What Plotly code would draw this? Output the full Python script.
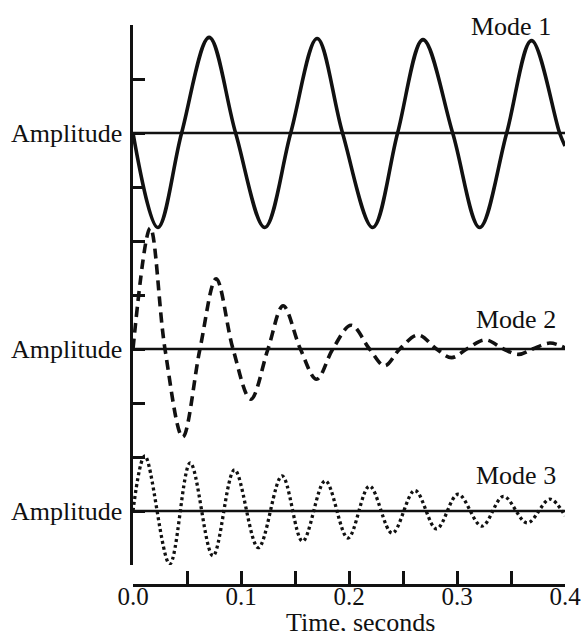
import plotly.graph_objects as go

# ---- data (time in s, amplitude in axis units) ----
mode1_t = [0.0, 0.023, 0.045, 0.0705, 0.095, 0.122, 0.146, 0.1705, 0.194, 0.222, 0.245, 0.2685, 0.296, 0.321, 0.346, 0.369, 0.395, 0.4]
mode1_a = [0.0, -1.75, 0.0, 1.77, 0.0, -1.75, 0.0, 1.75, 0.0, -1.75, 0.0, 1.73, 0.0, -1.75, 0.0, 1.71, 0.0, -0.24]

mode2_t = [0.0, 0.016, 0.0296, 0.046, 0.062, 0.077, 0.0926, 0.109, 0.125, 0.139, 0.155, 0.170, 0.185, 0.202, 0.219, 0.233, 0.247, 0.264, 0.281, 0.295, 0.309, 0.326, 0.343, 0.357, 0.370, 0.386, 0.4]
mode2_a = [0.0, 2.24, 0.0, -1.63, 0.0, 1.30, 0.0, -0.93, 0.0, 0.80, 0.0, -0.56, 0.0, 0.44, 0.0, -0.31, 0.0, 0.26, 0.0, -0.16, 0.0, 0.17, 0.0, -0.10, 0.0, 0.11, 0.02]

mode3_t = [0.0, 0.011, 0.034, 0.053, 0.074, 0.094, 0.116, 0.138, 0.157, 0.178, 0.199, 0.219, 0.240, 0.261, 0.281, 0.301, 0.323, 0.343, 0.365, 0.386, 0.4]
mode3_a = [0.0, 1.02, -0.98, 0.89, -0.83, 0.76, -0.68, 0.65, -0.56, 0.56, -0.50, 0.46, -0.41, 0.38, -0.33, 0.31, -0.28, 0.27, -0.22, 0.22, -0.09]

x_tickvals = [0.0, 0.05, 0.1, 0.15, 0.2, 0.25, 0.3, 0.35, 0.4]
x_ticktext = ["0.0", "", "0.1", "", "0.2", "", "0.3", "", "0.4"]

mode_names = ["Mode 1", "Mode 2", "Mode 3"]
baselines = [8, 4, 1]          # vertical offsets of each mode's zero line
y_tickvals = list(range(0, 11))
y_ticktext = ["Amplitude" if v in baselines else "" for v in y_tickvals]

FONT = "Liberation Serif"
BLACK = "#111111"

fig = go.Figure()

# zero lines
for b in baselines:
    fig.add_trace(go.Scatter(x=[0.0, 0.4], y=[b, b], mode="lines",
                             line=dict(color=BLACK, width=2.5), showlegend=False, hoverinfo="skip"))

series = [(mode1_t, mode1_a, "solid", 3.6),
          (mode2_t, mode2_a, "10px,6px", 3.6),
          (mode3_t, mode3_a, "3px,3px", 3.3)]
for (t, a, dash, w), b, name in zip(series, baselines, mode_names):
    fig.add_trace(go.Scatter(x=t, y=[b + v for v in a], mode="lines", name=name,
                             line=dict(color=BLACK, width=w, dash=dash, shape="spline", smoothing=1.0),
                             showlegend=False))

# mode labels
label_pos = [(0.350, 9.98), (0.355, 4.55), (0.355, 1.66)]
for name, (lx, ly) in zip(mode_names, label_pos):
    fig.add_annotation(x=lx, y=ly, xref="x", yref="y", text=name, showarrow=False,
                       font=dict(family=FONT, size=26, color=BLACK), xanchor="center", yanchor="middle")

fig.add_annotation(x=0.211, y=-0.067, xref="x", yref="paper", text="Time, seconds", showarrow=False,
                   font=dict(family=FONT, size=26, color=BLACK), xanchor="center", yanchor="middle")

fig.update_layout(
    width=584, height=631,
    margin=dict(l=133, r=19, t=25, b=46),
    paper_bgcolor="white", plot_bgcolor="white",
    showlegend=False,
    xaxis=dict(range=[0, 0.4], tickvals=x_tickvals, ticktext=x_ticktext, automargin=False,
               ticks="inside", ticklen=13, tickwidth=3, tickcolor=BLACK,
               showline=True, linewidth=3, linecolor=BLACK, showgrid=False, zeroline=False,
               anchor="free", position=0, ticklabelstandoff=-12,
               tickfont=dict(family=FONT, size=25, color=BLACK)),
    yaxis=dict(range=[0, 10], domain=[20 / 560, 1], tickvals=y_tickvals, ticktext=y_ticktext,
               automargin=False,
               ticks="inside", ticklen=12, tickwidth=3, tickcolor=BLACK,
               showline=True, linewidth=3.5, linecolor=BLACK, showgrid=False, zeroline=False,
               ticklabelstandoff=2,
               tickfont=dict(family=FONT, size=26, color=BLACK)),
)

# remove the default 8px page margin so the figure fills the window exactly
fig.write_html("out.html", config={"displayModeBar": False, "staticPlot": True},
               post_script="document.body.style.margin='0';document.body.style.overflow='hidden';")
